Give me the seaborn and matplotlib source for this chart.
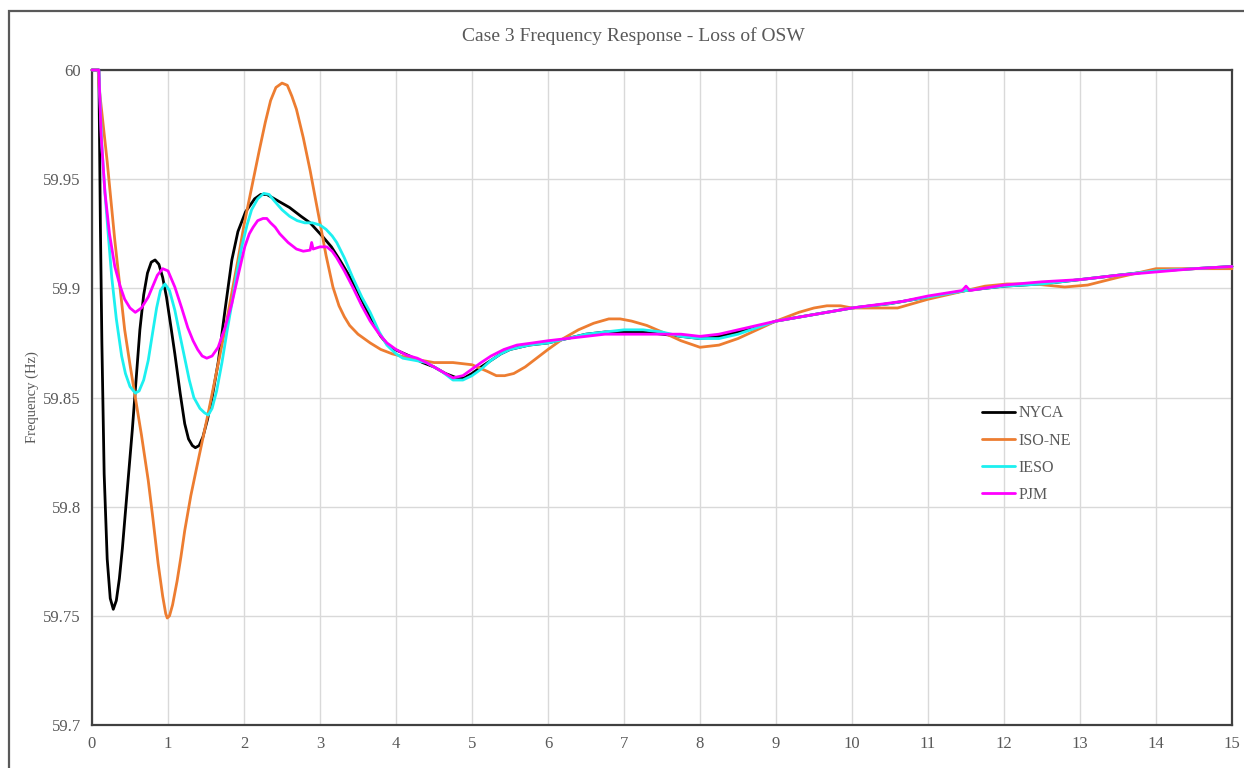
import pandas as pd
import matplotlib
matplotlib.use("Agg")
import matplotlib.pyplot as plt
from matplotlib.patches import Rectangle
import seaborn as sns

# values (time in s, frequency in Hz)
nyca_t = [0, 0.09, 0.11, 0.13, 0.16, 0.2, 0.24, 0.28, 0.32, 0.36, 0.4, 0.46, 0.53, 0.58, 0.63,
          0.68, 0.73, 0.78, 0.83, 0.88, 0.93, 0.98, 1.04, 1.09, 1.16, 1.22, 1.27, 1.32, 1.36,
          1.41, 1.46, 1.52, 1.58, 1.66, 1.75, 1.84, 1.92, 2.02, 2.14, 2.22, 2.3, 2.45, 2.6,
          2.75, 2.87, 3.04, 3.15, 3.26, 3.38, 3.49, 3.6, 3.7, 3.8, 3.92, 4.05, 4.18, 4.35, 4.5,
          4.65, 4.8, 4.9, 5.0, 5.12, 5.25, 5.38, 5.5, 5.75, 6.0, 6.25, 6.5, 6.75, 7.0, 7.25,
          7.5, 7.75, 8.0, 8.25, 8.5, 8.75, 9.0, 9.5, 10, 10.5, 11, 11.5, 12, 12.5, 13, 13.5,
          14, 14.5, 15]
nyca_f = [60, 60, 59.93, 59.875, 59.815, 59.776, 59.758, 59.753, 59.757, 59.767, 59.781, 59.806,
          59.835, 59.858, 59.881, 59.897, 59.907, 59.912, 59.913, 59.911, 59.905, 59.896, 59.882,
          59.87, 59.852, 59.838, 59.831, 59.828, 59.827, 59.828, 59.832, 59.84, 59.85, 59.866,
          59.89, 59.913, 59.926, 59.935, 59.941, 59.943, 59.943, 59.94, 59.937, 59.933, 59.93,
          59.9235, 59.919, 59.913, 59.906, 59.899, 59.891, 59.884, 59.878, 59.873, 59.871,
          59.869, 59.866, 59.864, 59.861, 59.859, 59.859, 59.861, 59.864, 59.867, 59.87, 59.872,
          59.874, 59.875, 59.877, 59.879, 59.88, 59.88, 59.88, 59.879, 59.878, 59.877, 59.878,
          59.88, 59.882, 59.885, 59.888, 59.891, 59.893, 59.896, 59.899, 59.901, 59.902, 59.904,
          59.906, 59.908, 59.909, 59.91]

isone_t = [0, 0.08, 0.1, 0.2, 0.3, 0.43, 0.5, 0.57, 0.65, 0.74, 0.8, 0.87, 0.93, 0.97, 0.99,
           1.02, 1.06, 1.12, 1.17, 1.22, 1.3, 1.39, 1.53, 1.64, 1.75, 1.84, 1.92, 2.0, 2.1,
           2.2, 2.28, 2.35, 2.42, 2.5, 2.57, 2.63, 2.69, 2.78, 2.87, 2.94, 3.0, 3.08, 3.17,
           3.25, 3.32, 3.39, 3.5, 3.66, 3.8, 3.95, 4.18, 4.5, 4.75, 5.0, 5.2, 5.32, 5.43, 5.55,
           5.7, 5.85, 6.0, 6.2, 6.4, 6.6, 6.8, 6.95, 7.1, 7.3, 7.5, 7.75, 8.0, 8.25, 8.5, 8.75,
           9.0, 9.3, 9.5, 9.67, 9.85, 10, 10.3, 10.6, 10.8, 11, 11.25, 11.5, 11.75, 12.04,
           12.4, 12.8, 13.1, 13.5, 13.75, 14, 14.4, 15]
isone_f = [60, 60, 59.99, 59.958, 59.922, 59.881, 59.865, 59.85, 59.833, 59.812, 59.795, 59.774,
           59.759, 59.751, 59.749, 59.75, 59.755, 59.766, 59.777, 59.789, 59.805, 59.82, 59.843,
           59.862, 59.881, 59.898, 59.913, 59.929, 59.946, 59.963, 59.976, 59.986, 59.992,
           59.994, 59.993, 59.988, 59.982, 59.969, 59.954, 59.941, 59.93, 59.915, 59.9006,
           59.892, 59.887, 59.883, 59.879, 59.875, 59.872, 59.87, 59.868, 59.866, 59.866,
           59.865, 59.862, 59.86, 59.86, 59.861, 59.864, 59.868, 59.872, 59.877, 59.881, 59.884,
           59.886, 59.886, 59.885, 59.883, 59.88, 59.876, 59.873, 59.874, 59.877, 59.881,
           59.885, 59.889, 59.891, 59.892, 59.892, 59.891, 59.891, 59.891, 59.893, 59.895,
           59.897, 59.899, 59.901, 59.902, 59.902, 59.9006, 59.9015, 59.905, 59.907, 59.909,
           59.909, 59.909]

ieso_t = [0, 0.09, 0.13, 0.17, 0.22, 0.26, 0.32, 0.39, 0.44, 0.5, 0.57, 0.62, 0.68, 0.74, 0.79,
          0.85, 0.9, 0.96, 1.02, 1.09, 1.16, 1.22, 1.28, 1.34, 1.42, 1.48, 1.53, 1.58, 1.64,
          1.71, 1.78, 1.84, 1.9, 1.97, 2.04, 2.1, 2.18, 2.26, 2.33, 2.4, 2.5, 2.6, 2.7, 2.8,
          2.9, 3.0, 3.08, 3.16, 3.22, 3.32, 3.43, 3.55, 3.66, 3.78, 3.88, 4.0, 4.09, 4.25, 4.4,
          4.6, 4.75, 4.88, 5.0, 5.12, 5.25, 5.38, 5.5, 5.75, 6.0, 6.25, 6.5, 6.75, 7.0, 7.25,
          7.5, 7.75, 8.0, 8.25, 8.5, 8.75, 9.0, 9.5, 10, 10.5, 11, 11.5, 12, 12.5, 13, 13.5,
          14, 14.5, 15]
ieso_f = [60, 60, 59.965, 59.944, 59.922, 59.905, 59.886, 59.869, 59.861, 59.855, 59.852, 59.853,
          59.858, 59.867, 59.878, 59.891, 59.899, 59.902, 59.899, 59.89, 59.878, 59.868, 59.858,
          59.85, 59.845, 59.843, 59.842, 59.845, 59.853, 59.866, 59.881, 59.893, 59.906,
          59.919, 59.929, 59.936, 59.941, 59.9435, 59.943, 59.94, 59.936, 59.933, 59.931, 59.93,
          59.93, 59.929, 59.927, 59.924, 59.921, 59.914, 59.905, 59.896, 59.889, 59.88, 59.874,
          59.87, 59.868, 59.867, 59.866, 59.862, 59.858, 59.858, 59.86, 59.863, 59.867, 59.87,
          59.872, 59.874, 59.875, 59.877, 59.879, 59.88, 59.881, 59.881, 59.88, 59.878, 59.877,
          59.877, 59.879, 59.882, 59.885, 59.888, 59.891, 59.893, 59.896, 59.899, 59.901,
          59.902, 59.904, 59.906, 59.908, 59.909, 59.91]

pjm_t = [0, 0.09, 0.12, 0.17, 0.23, 0.3, 0.37, 0.43, 0.5, 0.57, 0.65, 0.74, 0.8, 0.86, 0.93,
         1.0, 1.09, 1.18, 1.26, 1.33, 1.39, 1.45, 1.51, 1.58, 1.66, 1.75, 1.84, 1.93, 2.01,
         2.07, 2.12, 2.18, 2.25, 2.3, 2.35, 2.41, 2.47, 2.58, 2.69, 2.78, 2.87, 2.89, 2.91,
         3.0, 3.09, 3.16, 3.22, 3.32, 3.43, 3.55, 3.66, 3.78, 3.88, 4.0, 4.14, 4.28, 4.4, 4.55,
         4.75, 4.88, 5.0, 5.12, 5.25, 5.42, 5.59, 5.8, 6.0, 6.25, 6.5, 6.75, 7.0, 7.25, 7.5,
         7.75, 8.0, 8.25, 8.5, 8.75, 9.0, 9.5, 10, 10.66, 11, 11.45, 11.5, 11.55, 12, 12.5, 13,
         13.5, 14, 14.5, 15]
pjm_f = [60, 60, 59.97, 59.944, 59.925, 59.91, 59.901, 59.895, 59.891, 59.889, 59.891, 59.896,
         59.901, 59.906, 59.909, 59.908, 59.9006, 59.891, 59.882, 59.876, 59.872, 59.869, 59.868,
         59.869, 59.873, 59.882, 59.893, 59.907, 59.919, 59.925, 59.928, 59.931, 59.932, 59.932,
         59.93, 59.928, 59.925, 59.921, 59.918, 59.917, 59.9175, 59.921, 59.918, 59.919, 59.919,
         59.917, 59.914, 59.908, 59.9006, 59.892, 59.885, 59.879, 59.875, 59.872, 59.8694,
         59.868, 59.866, 59.863, 59.859, 59.86, 59.863, 59.866, 59.869, 59.872, 59.874, 59.875,
         59.876, 59.877, 59.878, 59.879, 59.879, 59.879, 59.879, 59.879, 59.878, 59.879,
         59.881, 59.883, 59.885, 59.888, 59.891, 59.894, 59.8965, 59.899, 59.901, 59.899,
         59.9015, 59.903, 59.904, 59.906, 59.9075, 59.909, 59.91]

series = ["NYCA", "ISO-NE", "IESO", "PJM"]
colors = ["#000000", "#ED7D31", "#1CF0F0", "#FF00FF"]
x_ticks = list(range(0, 16))
y_ticks = [59.7, 59.75, 59.8, 59.85, 59.9, 59.95, 60]
y_labels = ["59.7", "59.75", "59.8", "59.85", "59.9", "59.95", "60"]

frames = []
for name, t, f in zip(series, [nyca_t, isone_t, ieso_t, pjm_t], [nyca_f, isone_f, ieso_f, pjm_f]):
    frames.append(pd.DataFrame({"Time": t, "Frequency": f, "Area": name}))
df = pd.concat(frames, ignore_index=True)

sns.set_style("white")
plt.rcParams["font.family"] = ["Liberation Serif", "DejaVu Serif"]

fig = plt.figure(figsize=(12.44, 7.68), dpi=100)
ax = fig.add_axes([92 / 1244, 1 - 725 / 768, 1140 / 1244, 655 / 768])

# outer chart frame
fig.patches.append(Rectangle((9 / 1244, -0.05), 1.2, 1 - 11 / 768 + 0.05, transform=fig.transFigure,
                             fill=False, edgecolor="#595959", linewidth=1.6, zorder=0))

sns.lineplot(data=df, x="Time", y="Frequency", hue="Area", hue_order=series,
             palette=dict(zip(series, colors)), estimator=None, sort=False,
             linewidth=2.0, ax=ax)
# smooth joins, and let the traces sit on top of the frame like the original
for line in ax.lines:
    line.set_solid_joinstyle("round")
    line.set_solid_capstyle("round")
    line.set_clip_on(False)
    line.set_zorder(3)

ax.set_xlim(0, 15)
ax.set_ylim(59.7, 60)
ax.set_xticks(x_ticks)
ax.set_xticklabels([str(v) for v in x_ticks])
ax.set_yticks(y_ticks)
ax.set_yticklabels(y_labels)
ax.tick_params(axis="both", length=0, labelsize=12, labelcolor="#595959", pad=8)
ax.grid(True, color="#d9d9d9", linewidth=1.0)
ax.set_axisbelow(True)
for s in ax.spines.values():
    s.set_color("#404040")
    s.set_linewidth(1.6)
    s.set_visible(True)

ax.set_xlabel("")
ax.set_ylabel("Frequency (Hz)", fontsize=10.5, color="#595959", labelpad=3)
fig.text(633 / 1244, 1 - 36 / 768, "Case 3 Frequency Response - Loss of OSW",
         ha="center", va="center", fontsize=14, color="#595959")

leg = ax.legend(loc="upper left", bbox_to_anchor=(0.774, 0.50), frameon=False,
                fontsize=11.5, handlelength=2.05, handletextpad=0.2, labelspacing=0.7,
                borderpad=0)
for txt in leg.get_texts():
    txt.set_color("#595959")

fig.savefig("out.png", dpi=100)
